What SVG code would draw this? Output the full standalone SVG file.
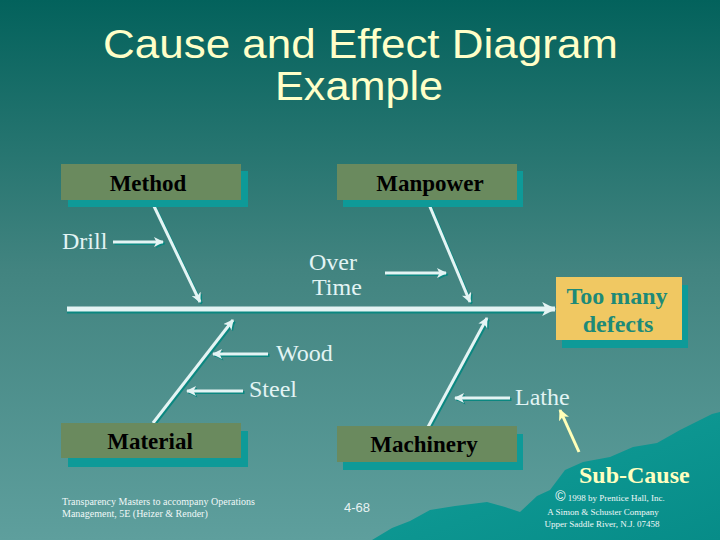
<svg xmlns="http://www.w3.org/2000/svg" width="720" height="540" viewBox="0 0 720 540">
<defs>
<linearGradient id="bg" x1="0" y1="0" x2="0" y2="1">
<stop offset="0" stop-color="#03625c"/>
<stop offset="0.5" stop-color="#428480"/>
<stop offset="1" stop-color="#5e9f9d"/>
</linearGradient>
<linearGradient id="mt" x1="0" y1="0" x2="1" y2="1">
<stop offset="0" stop-color="#12a09a"/>
<stop offset="1" stop-color="#078c88"/>
</linearGradient>
<marker id="ah" viewBox="0 0 10 10" refX="9" refY="5" markerWidth="10" markerHeight="10" markerUnits="userSpaceOnUse" orient="auto">
<path d="M0,0 L10,5 L0,10 L2.5,5 Z" fill="#e4f4f4"/>
</marker>
<marker id="ahs" viewBox="0 0 10 10" refX="9" refY="5" markerWidth="10" markerHeight="10" markerUnits="userSpaceOnUse" orient="auto">
<path d="M0,0 L10,5 L0,10 L2.5,5 Z" fill="#0b8780"/>
</marker>
<marker id="big" viewBox="0 0 12 12" refX="11" refY="6" markerWidth="14" markerHeight="14" markerUnits="userSpaceOnUse" orient="auto">
<path d="M0,0 L12,6 L0,12 L3,6 Z" fill="#e4f4f4"/>
</marker>
<marker id="yel" viewBox="0 0 10 10" refX="9" refY="5" markerWidth="11" markerHeight="11" markerUnits="userSpaceOnUse" orient="auto">
<path d="M0,0 L10,5 L0,10 L2.5,5 Z" fill="#ffffb8"/>
</marker>
<style>
.shadow{fill:#0e9a98}
.cat{fill:#6a8a5e}
.cattext{font-family:"Liberation Serif",serif;font-size:23px;font-weight:bold;fill:#000;text-anchor:middle}
.lbl{font-family:"Liberation Serif",serif;font-size:24px;fill:#e2f4f4}
.bone{stroke:#e4f4f4;stroke-width:3;fill:none;marker-end:url(#ah)}
.bones{stroke:#0b8780;stroke-width:3;fill:none;marker-end:url(#ahs)}
.foot{font-family:"Liberation Serif",serif;font-size:10px;fill:#f0f8f8}
</style>
</defs>
<rect width="720" height="540" fill="url(#bg)"/>
<path d="M372,540 L392,528 L410,521 L430,510 L455,506 L487,502 L505,507 L520,512 L537,496 L550,490 L565,470 L583,462 L610,457 L633,447 L657,443 L680,430 L700,420 L712,414 L720,412 L720,540 Z" fill="url(#mt)"/>

<g id="title" font-family="'Liberation Sans',Arial,sans-serif" font-size="41" fill="#ffffc8">
<text x="103" y="58" textLength="515" lengthAdjust="spacingAndGlyphs">Cause and Effect Diagram</text>
<text x="275" y="100" textLength="168" lengthAdjust="spacingAndGlyphs">Example</text>
</g>

<g id="connectors">
<line x1="67" y1="311" x2="545" y2="311" stroke="#0b8780" stroke-width="5"/>
<line x1="67" y1="309" x2="555" y2="309" stroke="#e4f4f4" stroke-width="5" marker-end="url(#big)"/>
<line class="bones" x1="153.5" y1="203.5" x2="201.5" y2="303.5"/>
<line class="bone" x1="152" y1="202" x2="200" y2="302"/>
<line class="bones" x1="429.5" y1="203.5" x2="471.5" y2="303.5"/>
<line class="bone" x1="428" y1="202" x2="470" y2="302"/>
<line class="bones" x1="154.5" y1="424.5" x2="234.5" y2="321.5"/>
<line class="bone" x1="153" y1="423" x2="233" y2="320"/>
<line class="bones" x1="429.5" y1="428.5" x2="488.5" y2="319.5"/>
<line class="bone" x1="428" y1="427" x2="487" y2="318"/>
<line class="bones" x1="114.5" y1="243.5" x2="164.5" y2="243.5"/>
<line class="bone" x1="113" y1="242" x2="163" y2="242"/>
<line class="bones" x1="386.5" y1="274.5" x2="447.5" y2="274.5"/>
<line class="bone" x1="385" y1="273" x2="446" y2="273"/>
<line class="bones" x1="269.5" y1="355.5" x2="214.5" y2="355.5"/>
<line class="bone" x1="268" y1="354" x2="213" y2="354"/>
<line class="bones" x1="244.5" y1="392.5" x2="188.5" y2="392.5"/>
<line class="bone" x1="243" y1="391" x2="187" y2="391"/>
<line class="bones" x1="511.5" y1="399.5" x2="456.5" y2="399.5"/>
<line class="bone" x1="510" y1="398" x2="455" y2="398"/>
<line x1="579" y1="452" x2="560" y2="410" stroke="#ffffb8" stroke-width="3" marker-end="url(#yel)"/>
</g>

<g id="method">
<rect class="shadow" x="68" y="171" width="180" height="36"/>
<rect class="cat" x="61" y="164" width="180" height="36"/>
<text class="cattext" x="148" y="191">Method</text>
</g>
<g id="manpower">
<rect class="shadow" x="343" y="171" width="180" height="36"/>
<rect class="cat" x="337" y="164" width="180" height="36"/>
<text class="cattext" x="430" y="191">Manpower</text>
</g>
<g id="material">
<rect class="shadow" x="68" y="431" width="180" height="36"/>
<rect class="cat" x="61" y="423" width="180" height="35"/>
<text class="cattext" x="150" y="449">Material</text>
</g>
<g id="machinery">
<rect class="shadow" x="343" y="434" width="180" height="36"/>
<rect class="cat" x="337" y="426" width="180" height="36"/>
<text class="cattext" x="424" y="452">Machinery</text>
</g>
<g id="effect">
<rect class="shadow" x="562" y="285" width="126" height="63"/>
<rect x="556" y="277" width="126" height="63" fill="#f0c862"/>
<text x="617" y="304" font-family="'Liberation Serif',serif" font-size="24" font-weight="bold" fill="#1d8a78" text-anchor="middle">Too many</text>
<text x="618" y="332" font-family="'Liberation Serif',serif" font-size="24" font-weight="bold" fill="#1d8a78" text-anchor="middle">defects</text>
</g>

<g id="drill"><text class="lbl" x="62" y="249">Drill</text></g>
<g id="overtime">
<text class="lbl" x="309" y="270">Over</text>
<text class="lbl" x="312" y="295">Time</text>
</g>
<g id="wood"><text class="lbl" x="276" y="361">Wood</text></g>
<g id="steel"><text class="lbl" x="249" y="397">Steel</text></g>
<g id="lathe"><text class="lbl" x="515" y="405">Lathe</text></g>
<g id="subcause"><text x="579" y="483" font-family="'Liberation Serif',serif" font-size="24" font-weight="bold" fill="#ffffc0">Sub-Cause</text></g>

<g id="footer">
<text class="foot" x="62" y="505">Transparency Masters to accompany Operations</text>
<text class="foot" x="62" y="517">Management, 5E (Heizer &amp; Render)</text>
<text x="344" y="512" font-family="'Liberation Sans',Arial,sans-serif" font-size="13" fill="#e8f2f2">4-68</text>
<text x="610" y="501" font-family="'Liberation Serif',serif" font-size="9" fill="#f0f8f8" text-anchor="middle"><tspan font-size="14" font-family="'Liberation Sans',sans-serif">©</tspan> 1998 by Prentice Hall, Inc.</text>
<text x="603" y="515" font-family="'Liberation Serif',serif" font-size="9" fill="#f0f8f8" text-anchor="middle">A Simon &amp; Schuster Company</text>
<text x="602" y="527" font-family="'Liberation Serif',serif" font-size="9" fill="#f0f8f8" text-anchor="middle">Upper Saddle River, N.J. 07458</text>
</g>
</svg>
